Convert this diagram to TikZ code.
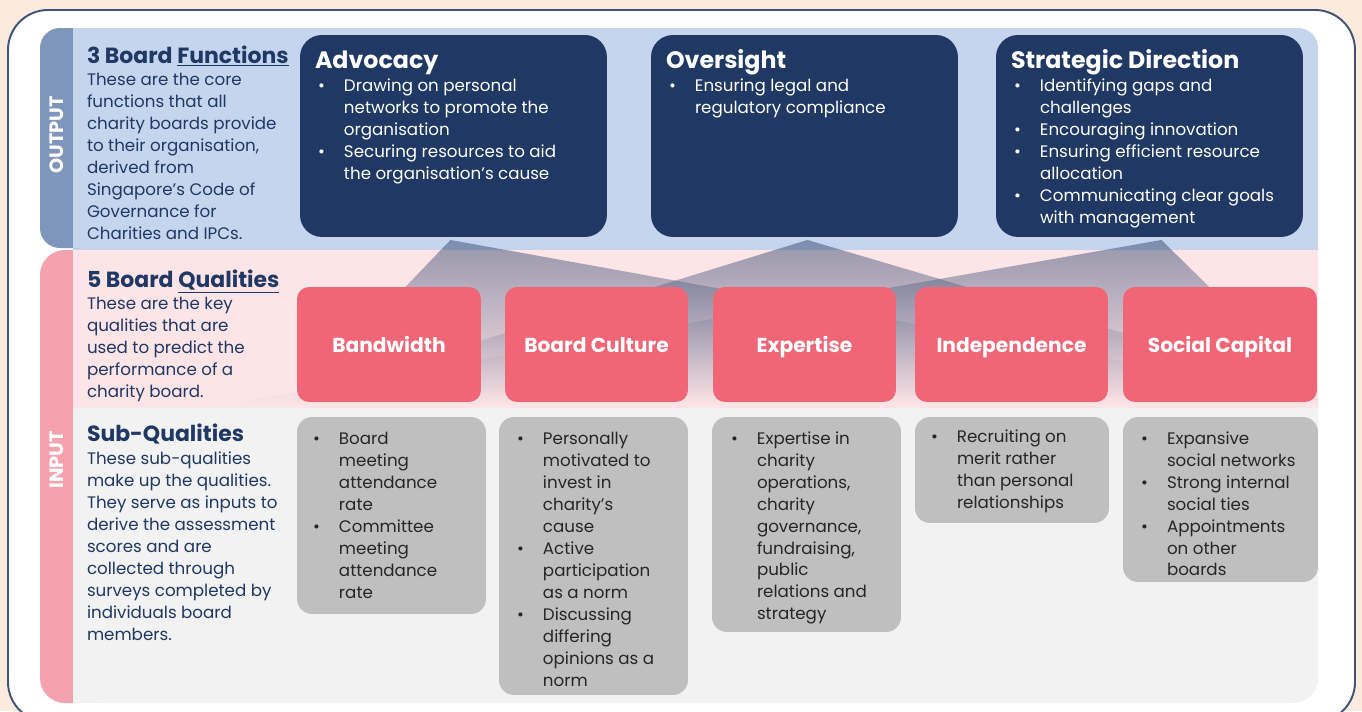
\documentclass[tikz,border=0pt]{standalone}
\usepackage{fontspec}
\setmainfont{Poppins}
\usepackage{tikz}
\usetikzlibrary{positioning,calc}

\definecolor{peach}{HTML}{FCEADC}
\definecolor{framecol}{HTML}{3E5378}
\definecolor{navy}{HTML}{1F3864}
\definecolor{outtab}{HTML}{7F96BC}
\definecolor{outband}{HTML}{C5D5EE}
\definecolor{intab}{HTML}{F4A2AE}
\definecolor{inband}{HTML}{FDE4E7}
\definecolor{subband}{HTML}{F2F2F2}
\definecolor{qualcol}{HTML}{F06676}
\definecolor{subcol}{HTML}{BFBFBF}
\definecolor{subtext}{HTML}{262626}

% bullet and hanging indent for the lists
\newcommand{\bul}{\makebox[0.52cm][l]{\textbullet}}
\newcommand{\gap}{\hspace*{0.52cm}}

\begin{document}
\begin{tikzpicture}[x=0.02cm, y=-0.02cm,
    every node/.style={inner sep=0pt, outer sep=0pt},
    lefthead/.style={anchor=base west, text=navy, font=\bfseries\fontsize{12.5}{14}\selectfont},
    lefttxt/.style={anchor=north west, align=left, text=navy, font=\fontsize{9.5}{12.5}\selectfont, execute at begin node=\strut},
    fnbox/.style={fill=navy, rounded corners=0.44cm, anchor=north west, minimum width=6.14cm, minimum height=4.04cm},
    fnhead/.style={anchor=base west, text=white, font=\bfseries\fontsize{13.5}{15}\selectfont},
    fntxt/.style={anchor=north west, align=left, text=white, font=\fontsize{9.5}{12.5}\selectfont, execute at begin node=\strut},
    quality/.style={fill=qualcol, rounded corners=0.24cm, anchor=north west, minimum height=2.3cm, text height=11pt, text depth=2pt, text=white, font=\bfseries\fontsize{11.5}{13}\selectfont},
    subbox/.style={fill=subcol, rounded corners=0.3cm, anchor=north west},
    subtxt/.style={anchor=north west, align=left, text=subtext, font=\fontsize{9.5}{12.5}\selectfont, execute at begin node=\strut},
    tablbl/.style={rotate=90, text=white, font=\bfseries\fontsize{11}{13}\selectfont},
    fan/.style={fill opacity=0.45, top color=navy, middle color=qualcol, bottom color=inband}
  ]
  \useasboundingbox (0,0) rectangle (1362,711);
  \clip (0,0) rectangle (1362,711);
  \fill[peach] (0,0) rectangle (1362,711);
  \draw[framecol, line width=1.1pt, fill=white, rounded corners=0.8cm] (8,10) rectangle (1355,722);

  % output band
  \fill[outband, rounded corners=0.4cm] (73,28) rectangle (1318,270);
  \fill[outtab, rounded corners=0.4cm] (40,28) rectangle (100,248);
  \fill[outband] (73,28) rectangle (110,248);
  % input band
  \fill[subband, rounded corners=0.5cm] (73,250) rectangle (1318,703);
  \fill[intab, rounded corners=0.5cm] (40,250) rectangle (100,703);
  \fill[inband] (73,250) rectangle (1318,408);
  \fill[subband] (73,408) rectangle (110,703);

  \node[tablbl] (outLbl) at (57,135) {OUTPUT};
  \node[tablbl] (inLbl) at (57,460) {INPUT};

  % left column
  \node[lefthead] (fnHead) at (87,63) {3 Board \underline{Functions}};
  \node[lefttxt] (fnText) at (87,73) {These are the core\\functions that all\\charity boards provide\\to their organisation,\\derived from\\Singapore’s Code of\\Governance for\\Charities and IPCs.};
  \node[lefthead] (quHead) at (87,287) {5 Board \underline{Qualities}};
  \node[lefttxt] (quText) at (87,297) {These are the key\\qualities that are\\used to predict the\\performance of a\\charity board.};
  \node[lefthead] (sqHead) at (87,441) {Sub-Qualities};
  \node[lefttxt] (sqText) at (87,452) {These sub-qualities\\make up the qualities.\\They serve as inputs to\\derive the assessment\\scores and are\\collected through\\surveys completed by\\individuals board\\members.};

  % board functions
  \node[fnbox] (adv) at (300,35) {};
  \node[fnbox] (ovs) at (651,35) {};
  \node[fnbox] (str) at (996,35) {};

  % fans from the functions down to the qualities
  \begin{scope}
    \clip (73,236) rectangle (1318,408);
    \shade[fan] ($(adv.south)+(-3,3)$) -- (292,405) -- (1364,405) -- cycle;
    \shade[fan] ($(ovs.south)+(3,3)$) -- (271,405) -- (1367,405) -- cycle;
    \shade[fan] ($(str.south)+(12,3)$) -- (223,405) -- (1329,405) -- cycle;
  \end{scope}

  \node[fnhead] (advHead) at ($(adv.north west)+(15,33)$) {Advocacy};
  \node[fntxt, below right=0.88cm and 0.36cm of adv.north west] (advText) {\bul Drawing on personal\\\gap networks to promote the\\\gap organisation\\\bul Securing resources to aid\\\gap the organisation’s cause};
  \node[fnhead] (ovsHead) at ($(ovs.north west)+(15,33)$) {Oversight};
  \node[fntxt, below right=0.88cm and 0.36cm of ovs.north west] (ovsText) {\bul Ensuring legal and\\\gap regulatory compliance};
  \node[fnhead] (strHead) at ($(str.north west)+(15,33)$) {Strategic Direction};
  \node[fntxt, below right=0.88cm and 0.36cm of str.north west] (strText) {\bul Identifying gaps and\\\gap challenges\\\bul Encouraging innovation\\\bul Ensuring efficient resource\\\gap allocation\\\bul Communicating clear goals\\\gap with management};

  % board qualities
  \node[quality, minimum width=3.68cm] (bw) at (297,287) {Bandwidth};
  \node[quality, minimum width=3.66cm] (bc) at (505,287) {Board Culture};
  \node[quality, minimum width=3.66cm] (ex) at (713,287) {Expertise};
  \node[quality, minimum width=3.86cm] (ind) at (915,287) {Independence};
  \node[quality, minimum width=3.88cm] (sc) at (1123,287) {Social Capital};

  % sub-qualities
  \node[subbox, minimum width=3.78cm, minimum height=3.94cm] (bwSub) at (297,417) {};
  \node[subbox, minimum width=3.78cm, minimum height=5.56cm] (bcSub) at (499,417) {};
  \node[subbox, minimum width=3.78cm, minimum height=4.3cm] (exSub) at (712,417) {};
  \node[subbox, minimum width=3.88cm, minimum height=2.12cm] (indSub) at (915,417) {};
  \node[subbox, minimum width=3.9cm, minimum height=3.3cm] (scSub) at (1123,417) {};

  \node[subtxt, below right=0.31cm and 0.32cm of bwSub.north west] (bwText) {\bul Board\\\gap meeting\\\gap attendance\\\gap rate\\\bul Committee\\\gap meeting\\\gap attendance\\\gap rate};
  \node[subtxt, below right=0.31cm and 0.36cm of bcSub.north west] (bcText) {\bul Personally\\\gap motivated to\\\gap invest in\\\gap charity’s\\\gap cause\\\bul Active\\\gap participation\\\gap as a norm\\\bul Discussing\\\gap differing\\\gap opinions as a\\\gap norm};
  \node[subtxt, below right=0.29cm and 0.38cm of exSub.north west] (exText) {\bul Expertise in\\\gap charity\\\gap operations,\\\gap charity\\\gap governance,\\\gap fundraising,\\\gap public\\\gap relations and\\\gap strategy};
  \node[subtxt, below right=0.26cm and 0.32cm of indSub.north west] (indText) {\bul Recruiting on\\\gap merit rather\\\gap than personal\\\gap relationships};
  \node[subtxt, below right=0.29cm and 0.36cm of scSub.north west] (scText) {\bul Expansive\\\gap social networks\\\bul Strong internal\\\gap social ties\\\bul Appointments\\\gap on other\\\gap boards};
\end{tikzpicture}
\end{document}
